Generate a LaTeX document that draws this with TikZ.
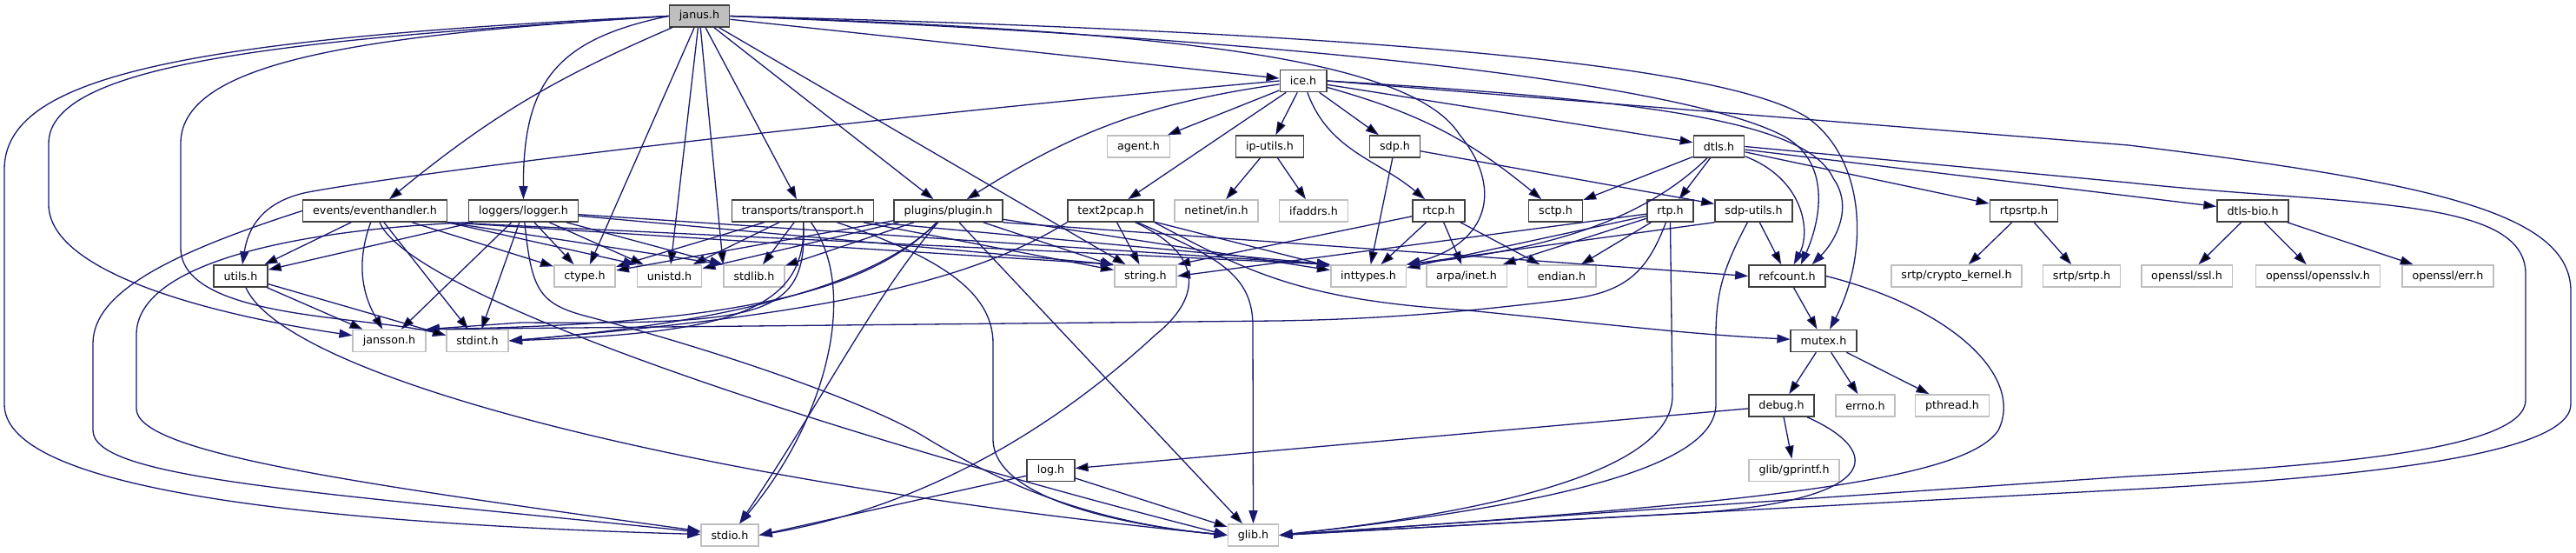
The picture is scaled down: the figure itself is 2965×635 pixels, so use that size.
\documentclass[tikz,border=0pt]{standalone}
\usepackage{fontspec}
\setmainfont{DejaVu Sans}
\usetikzlibrary{arrows.meta}
\definecolor{edgeblue}{HTML}{191970}
\definecolor{boxline}{HTML}{404040}
\definecolor{extline}{HTML}{BFBFBF}

\begin{document}
\begin{tikzpicture}[
      x=1pt, y=1pt,
      font=\fontsize{12.7}{15}\selectfont,
      hdr/.style={rectangle, draw=boxline, line width=1.6pt, fill=white, minimum height=25pt, inner xsep=11.5pt, inner ysep=0pt},
      sys/.style={hdr, draw=extline},
      root/.style={hdr, fill=extline},
      dep/.style={draw=edgeblue, line width=1.3pt, -{Triangle[length=15pt,width=10pt]}},
    ]
    \useasboundingbox (0,0) rectangle (2965,635);

    \node[root] (janus) at (805,616.5) {janus.h};
    \node[hdr] (ice) at (1500,542) {ice.h};
    \node[sys] (agent) at (1310.5,466.5) {agent.h};
    \node[hdr] (iputils) at (1461.5,466.5) {ip-utils.h};
    \node[hdr] (sdp) at (1605.5,466.5) {sdp.h};
    \node[hdr] (dtls) at (1978.5,466.5) {dtls.h};
    \node[hdr] (events) at (431.5,392.5) {events/eventhandler.h};
    \node[hdr] (logger) at (602.5,392.5) {loggers/logger.h};
    \node[hdr] (transport) at (924,392.5) {transports/transport.h};
    \node[hdr] (plugin) at (1091.5,392.5) {plugins/plugin.h};
    \node[hdr] (textpcap) at (1278.5,392.5) {text2pcap.h};
    \node[sys] (netinet) at (1400,392.5) {netinet/in.h};
    \node[sys] (ifaddrs) at (1512,392.5) {ifaddrs.h};
    \node[hdr] (rtcp) at (1656,392.5) {rtcp.h};
    \node[hdr] (sctp) at (1790.5,392.5) {sctp.h};
    \node[hdr] (rtp) at (1922.5,392.5) {rtp.h};
    \node[hdr] (sdputils) at (2018.5,392.5) {sdp-utils.h};
    \node[hdr] (rtpsrtp) at (2329.5,392.5) {rtpsrtp.h};
    \node[hdr] (dtlsbio) at (2593,392.5) {dtls-bio.h};
    \node[hdr] (utils) at (277,317.5) {utils.h};
    \node[sys] (ctype) at (673,317.5) {ctype.h};
    \node[sys] (unistd) at (770.5,317.5) {unistd.h};
    \node[sys] (stdlib) at (868,317.5) {stdlib.h};
    \node[sys] (string) at (1318.5,317.5) {string.h};
    \node[sys] (inttypes) at (1575,317.5) {inttypes.h};
    \node[sys] (arpa) at (1688,317.5) {arpa/inet.h};
    \node[sys] (endian) at (1797.5,317.5) {endian.h};
    \node[hdr] (refcount) at (2057,317.5) {refcount.h};
    \node[sys] (crypto) at (2252,317.5) {srtp/crypto\_kernel.h};
    \node[sys] (srtp) at (2396,317.5) {srtp/srtp.h};
    \node[sys] (ssl) at (2517,317.5) {openssl/ssl.h};
    \node[sys] (opensslv) at (2668,317.5) {openssl/opensslv.h};
    \node[sys] (err) at (2817.5,317.5) {openssl/err.h};
    \node[sys] (jansson) at (448,243) {jansson.h};
    \node[sys] (stdint) at (549.5,243) {stdint.h};
    \node[hdr] (mutex) at (2099,243) {mutex.h};
    \node[hdr] (debug) at (2050.5,168.5) {debug.h};
    \node[sys] (errno) at (2147,168.5) {errno.h};
    \node[sys] (pthread) at (2247,168.5) {pthread.h};
    \node[hdr] (log) at (1209.5,94) {log.h};
    \node[sys] (gprintf) at (2065,94) {glib/gprintf.h};
    \node[sys] (stdio) at (840,19.5) {stdio.h};
    \node[sys] (glib) at (1442.5,19.5) {glib.h};

    \path[dep] (janus) edge[bend right=8] (events) edge (ctype) edge (unistd) edge (stdlib.north west)
      edge (transport) edge (plugin) edge (string) edge (ice);
    \draw[dep] (janus.west) .. controls (640,590) and (602,540) .. (logger);
    \draw[dep] (janus.west) .. controls (200,590) and (5,545) .. (5,440) -- (5,170) .. controls (5,80) and (300,35) .. (stdio);
    \draw[dep] (janus.west) .. controls (350,590) and (56,565) .. (56,470) -- (56,400) .. controls (56,320) and (250,272) .. (jansson);
    \draw[dep] (janus.west) .. controls (420,595) and (208,565) .. (208,470) -- (208,350) .. controls (208,268) and (420,272) .. (stdint.170);
    \draw[dep] (janus.east) .. controls (1300,600) and (1620,575) .. (1680,480) .. controls (1730,420) and (1715,355) .. (inttypes.north east);
    \draw[dep] (janus.east) .. controls (1600,585) and (1950,530) .. (2050,480) .. controls (2110,450) and (2095,380) .. (refcount.40);
    \draw[dep] (janus.east) .. controls (1700,595) and (2000,550) .. (2080,500) .. controls (2150,450) and (2150,340) .. (mutex);

    \path[dep] (ice) edge (agent) edge (iputils) edge (sdp) edge[bend left=12] (sctp) edge (dtls) edge (textpcap)
      edge[bend right=12] (plugin) edge[out=-70,in=140] (rtcp);
    \draw[dep] (ice.west) .. controls (1000,500) and (500,440) .. (360,415) .. controls (300,405) and (285,370) .. (utils);
    \draw[dep] (ice.east) .. controls (1900,520) and (2080,495) .. (2110,430) .. controls (2135,395) and (2110,355) .. (refcount.25);
    \draw[dep] (ice.east) -- (2450,468) .. controls (2800,425) and (2959,390) .. (2959,300) -- (2959,170) .. controls (2959,110) and (2700,85) .. (2450,72) -- (glib.east);

    \path[dep] (dtls) edge (sctp) edge (rtp) edge (rtpsrtp) edge (dtlsbio);
    \draw[dep] (dtls) .. controls (2075,430) and (2085,370) .. (refcount.60);
    \draw[dep] (dtls) .. controls (1880,370) and (1750,345) .. (inttypes.north east);
    \draw[dep] (dtls.east) -- (2450,425) .. controls (2700,398) and (2907,410) .. (2907,320) -- (2907,175) .. controls (2907,120) and (2700,100) .. (2450,87) -- (glib.east);

    \path[dep] (iputils) edge (netinet) edge (ifaddrs);
    \path[dep] (sdp) edge (inttypes) edge (sdputils);
    \path[dep] (rtcp) edge (inttypes) edge (arpa) edge (endian) edge (string.north east);
    \path[dep] (rtp) edge (inttypes) edge (arpa) edge (endian) edge (string.east);
    \draw[dep] (rtp) .. controls (1895,320) and (1870,298) .. (1800,290) .. controls (1700,278) and (1600,268) .. (1470,266) -- (jansson.north east);
    \draw[dep] (rtp.south) -- (1925,180) .. controls (1925,100) and (1750,50) .. (glib.east);

    \path[dep] (sdputils) edge (refcount);
    \draw[dep] (sdputils.south west) -- (inttypes.north east);
    \draw[dep] (sdputils) .. controls (1985,330) and (1975,300) .. (1975,250) -- (1975,170) .. controls (1975,100) and (1800,55) .. (glib.east);

    \path[dep] (refcount) edge (mutex);
    \draw[dep] (refcount.east) .. controls (2250,280) and (2330,200) .. (2300,140) .. controls (2260,80) and (2000,55) .. (glib.east);
    \path[dep] (mutex) edge (debug) edge (errno) edge (pthread);
    \path[dep] (debug) edge (log) edge (gprintf);
    \draw[dep] (debug) .. controls (2170,115) and (2165,60) .. (1950,45) -- (glib.east);
    \path[dep] (log) edge (stdio.east) edge (glib);

    \path[dep] (textpcap) edge (string) edge (inttypes);
    \draw[dep] (textpcap.south west) .. controls (1100,300) and (900,270) .. (stdint.east);
    \draw[dep] (textpcap) .. controls (1390,340) and (1380,290) .. (1330,250) .. controls (1200,130) and (1050,50) .. (stdio.east);
    \draw[dep] (textpcap) .. controls (1400,340) and (1442,320) .. (1442,260) -- (glib);
    \draw[dep] (textpcap.south east) .. controls (1440,320) and (1500,290) .. (1690,278) .. controls (1850,262) and (1950,250) .. (mutex);

    \path[dep] (plugin) edge (ctype) edge (unistd) edge (stdlib) edge (string) edge (inttypes) edge (glib);
    \draw[dep] (plugin.south east) -- (refcount.west);
    \draw[dep] (plugin) .. controls (1000,300) and (850,262) .. (jansson.north east);
    \draw[dep] (plugin) .. controls (1010,310) and (850,265) .. (stdint.east);
    \draw[dep] (plugin) .. controls (1010,300) and (950,180) .. (stdio.50);

    \path[dep] (transport) edge (ctype) edge (unistd) edge (stdlib) edge (string);
    \draw[dep] (transport.south east) -- (inttypes.north west);
    \draw[dep] (transport) .. controls (930,270) and (880,262) .. (600,264) -- (jansson.north east);
    \draw[dep] (transport) .. controls (930,270) and (820,252) .. (stdint.east);
    \draw[dep] (transport) .. controls (990,300) and (950,150) .. (stdio);
    \draw[dep] (transport) .. controls (1080,340) and (1143,300) .. (1143,240) -- (1143,130) .. controls (1143,60) and (1300,30) .. (glib.west);

    \path[dep] (logger) edge (utils) edge (jansson) edge (stdint) edge (ctype) edge (unistd)
      edge (stdlib.north west) edge (string.north west) edge (inttypes.north west);
    \draw[dep] (logger.south west) .. controls (330,370) and (157,330) .. (157,250) -- (157,165) .. controls (157,115) and (400,80) .. (stdio);
    \draw[dep] (logger) .. controls (612,300) and (620,285) .. (680,270) .. controls (850,225) and (1000,170) .. (1060,135) .. controls (1150,80) and (1250,35) .. (glib.west);

    \path[dep] (events) edge (utils) edge (stdint) edge (ctype) edge[out=-110,in=120] (jansson);
    \draw[dep] (events.south east) -- (unistd.north west);
    \draw[dep] (events.south east) -- (stdlib.north west);
    \draw[dep] (events.south east) -- (string.north west);
    \draw[dep] (events.south east) -- (inttypes.north west);
    \draw[dep] (events.west) .. controls (200,345) and (107,300) .. (107,240) -- (107,140) .. controls (107,85) and (350,70) .. (stdio);
    \draw[dep] (events) .. controls (470,300) and (900,150) .. (glib.west);

    \path[dep] (utils) edge (jansson) edge (stdint.170);
    \draw[dep] (utils) .. controls (330,200) and (800,80) .. (glib.west);

    \path[dep] (rtpsrtp) edge (crypto) edge (srtp);
    \path[dep] (dtlsbio) edge (ssl) edge (opensslv) edge (err);
  \end{tikzpicture}
\end{document}
